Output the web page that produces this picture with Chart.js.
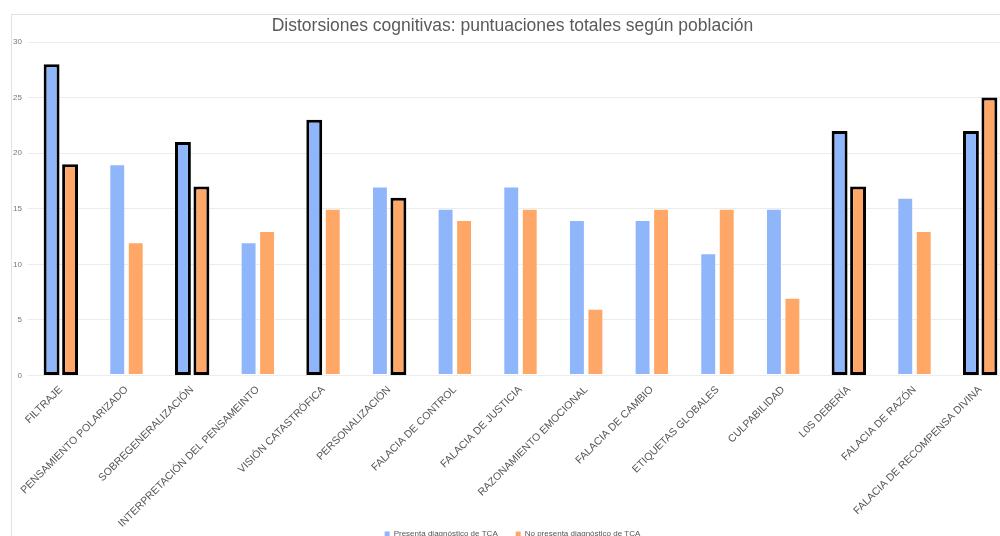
<!DOCTYPE html>
<html>
<head>
<meta charset="utf-8">
<script src="https://cdn.jsdelivr.net/npm/chart.js@4"></script>
<style>
  html, body { margin: 0; padding: 0; background: #fff; overflow: hidden; width: 1000px; height: 536px; }
  #frame { position: absolute; left: 11px; top: 14px; width: 1100px; height: 600px; border: 1px solid #e2e2e2; }
  #wrap { position: absolute; left: 0; top: 0; width: 1025px; height: 548px; }
</style>
</head>
<body>
<div id="frame"></div>
<div id="wrap"><canvas id="c"></canvas></div>
<script>
const categories = [
  'FILTRAJE', 'PENSAMIENTO POLARIZADO', 'SOBREGENERALIZACIÓN', 'INTERPRETACIÓN DEL PENSAMEINTO',
  'VISIÓN CATASTRÓFICA', 'PERSONALIZACIÓN', 'FALACIA DE CONTROL', 'FALACIA DE JUSTICIA',
  'RAZONAMIENTO EMOCIONAL', 'FALACIA DE CAMBIO', 'ETIQUETAS GLOBALES', 'CULPABILIDAD',
  'L0S DEBERÍA', 'FALACIA DE RAZÓN', 'FALACIA DE RECOMPENSA DIVINA'
];
const conDiagnostico = [28, 19, 21, 12, 23, 17, 15, 17, 14, 14, 11, 15, 22, 16, 22];
const sinDiagnostico = [19, 12, 17, 13, 15, 16, 14, 15, 6, 15, 15, 7, 17, 13, 25];
// categories whose bars are outlined in black
const resaltadasCon = [0, 2, 4, 12, 14];
const resaltadasSin = [0, 2, 5, 12, 14];
const yTicks = [0, 5, 10, 15, 20, 25, 30];

const FONT = "'Liberation Sans', Arial, sans-serif";
const edge = (list, i) => list.includes(i);
const SOFT_EDGE = 'rgba(255,255,255,0.55)';

new Chart(document.getElementById('c'), {
  type: 'bar',
  data: {
    labels: categories,
    datasets: [
      {
        label: 'Presenta diagnóstico de TCA',
        data: conDiagnostico,
        backgroundColor: '#8fb5fa',
        borderColor: conDiagnostico.map((_, i) => edge(resaltadasCon, i) ? '#000' : SOFT_EDGE),
        borderWidth: conDiagnostico.map((_, i) => edge(resaltadasCon, i) ? 3 : 1),
        borderSkipped: false,
        categoryPercentage: 0.563,
        barPercentage: 0.86
      },
      {
        label: 'No presenta diagnóstico de TCA',
        data: sinDiagnostico,
        backgroundColor: '#ffa767',
        borderColor: sinDiagnostico.map((_, i) => edge(resaltadasSin, i) ? '#000' : SOFT_EDGE),
        borderWidth: sinDiagnostico.map((_, i) => edge(resaltadasSin, i) ? 3 : 1),
        borderSkipped: false,
        categoryPercentage: 0.563,
        barPercentage: 0.86
      }
    ]
  },
  options: {
    responsive: true,
    maintainAspectRatio: false,
    animation: false,
    layout: { padding: { left: 12, right: 12, top: 6, bottom: 0 } },
    plugins: {
      title: {
        display: true,
        text: 'Distorsiones cognitivas: puntuaciones totales según población',
        color: '#5a5a5a',
        font: { family: FONT, size: 17.5, weight: 'normal' },
        padding: { top: 10, bottom: 5 }
      },
      legend: {
        position: 'bottom',
        labels: {
          color: '#555',
          font: { family: FONT, size: 8 },
          boxWidth: 5,
          boxHeight: 5,
          padding: 18,
          generateLabels: chart => chart.data.datasets.map((ds, i) => ({
            text: ds.label,
            fillStyle: ds.backgroundColor,
            strokeStyle: ds.backgroundColor,
            lineWidth: 0,
            fontColor: '#555',
            hidden: !chart.isDatasetVisible(i),
            datasetIndex: i
          }))
        }
      },
      tooltip: { enabled: false }
    },
    scales: {
      x: {
        grid: { display: false, drawTicks: false },
        border: { display: false },
        afterFit: axis => {
          // tighter band for the slanted labels; let them run past the band edge
          axis.height -= 26;
          axis._computeLabelArea = () => undefined;
        },
        ticks: {
          autoSkip: false,
          maxRotation: 45,
          minRotation: 45,
          padding: 8,
          color: '#555',
          font: { family: FONT, size: 10.5 }
        }
      },
      y: {
        min: 0,
        max: 30,
        afterBuildTicks: axis => { axis.ticks = yTicks.map(v => ({ value: v })); },
        afterFit: axis => { axis.width = 16; },
        grid: { color: '#ececec', drawTicks: false },
        border: { display: false },
        ticks: {
          padding: 6,
          color: '#777',
          font: { family: FONT, size: 8 }
        }
      }
    }
  }
});
</script>
</body>
</html>
